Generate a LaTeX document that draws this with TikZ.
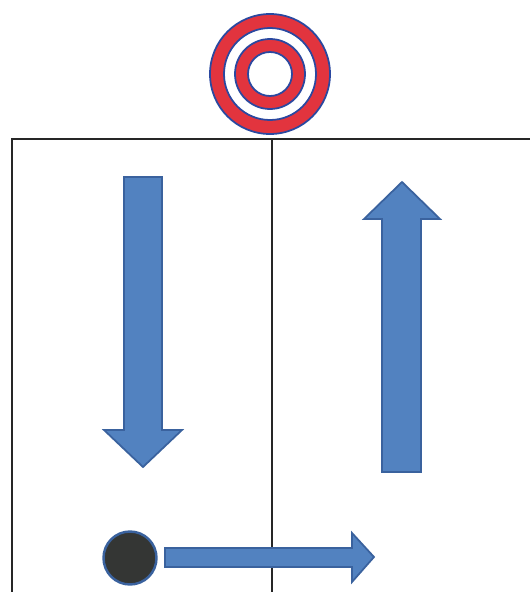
\documentclass[tikz,border=0pt]{standalone}
\usepackage{xcolor}
\usepackage{tikz}
\usetikzlibrary{positioning}
\definecolor{arrowblue}{RGB}{82,130,192}
\definecolor{arrowedge}{RGB}{58,98,158}
\definecolor{ringred}{RGB}{226,52,62}
\definecolor{ringblue}{RGB}{42,72,160}
\definecolor{puckgray}{RGB}{52,54,52}

\begin{document}
\begin{tikzpicture}[
    x=0.02cm, y=-0.02cm,
    frame/.style={line width=1.2pt, draw=black!85},
    bigarrow/.style={fill=arrowblue, draw=arrowedge, line width=1pt, line join=miter},
    ring/.style={fill=ringred, draw=ringblue, line width=1pt, even odd rule},
    puck/.style={circle, fill=puckgray, draw=arrowedge, line width=1.4pt, minimum size=1.06cm, inner sep=0pt}
]
    \useasboundingbox (0,0) rectangle (530,592);

    % Target on top
    \coordinate (target) at (270,74);
    \draw[ring] (target) circle[radius=60] (target) circle[radius=46];
    \draw[ring] (target) circle[radius=35] (target) circle[radius=22];

    % Frame
    \coordinate (topleft) at (12,139);
    \coordinate (topmid) at (272,139);
    \draw[frame] (topleft |- 0,592) -- (topleft) -- (530,139);
    \draw[frame] (topmid) -- (topmid |- 0,592);

    % Down arrow (left half)
    \draw[bigarrow] (124,177) -- (162,177) -- (162,430) -- (182,430) -- (143,467)
        -- (104,430) -- (124,430) -- cycle;

    % Up arrow (right half)
    \draw[bigarrow] (382,472) -- (421,472) -- (421,219) -- (440,219) -- (402,182)
        -- (364,219) -- (382,219) -- cycle;

    % Puck and push arrow
    \node[puck] (puck) at (130,558) {};
    \draw[bigarrow] (165,548) -- (352,548) -- (352,533) -- (374,557) -- (352,582)
        -- (352,567) -- (165,567) -- cycle;
\end{tikzpicture}
\end{document}
